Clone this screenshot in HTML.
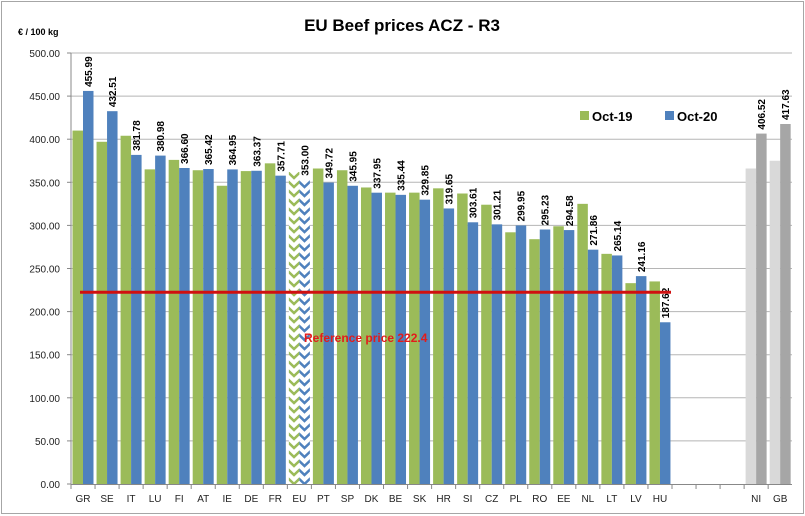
<!DOCTYPE html>
<html><head><meta charset="utf-8"><style>
body{margin:0;background:#fff;}
svg{display:block;font-family:"Liberation Sans",Arial,sans-serif;}
</style></head><body>
<svg width="805" height="516" viewBox="0 0 805 516">
<defs>
<pattern id="hg" width="10.5" height="9" patternUnits="userSpaceOnUse">
<rect width="10.5" height="9" fill="#fff"/>
<path d="M-1,8 L5.25,2 L11.5,8" stroke="#9bbb59" stroke-width="2.5" fill="none"/>
</pattern>
<pattern id="hb" width="10.5" height="9" patternUnits="userSpaceOnUse">
<rect width="10.5" height="9" fill="#fff"/>
<path d="M-1,8 L5.25,2 L11.5,8" stroke="#4f81bd" stroke-width="2.5" fill="none"/>
</pattern>
</defs>
<rect x="1.5" y="1.5" width="802" height="512" fill="#fff" stroke="#a6a6a6"/>
<text x="402" y="31" text-anchor="middle" font-size="17" font-weight="bold">EU Beef prices ACZ - R3</text>
<text x="18" y="35" font-size="9" font-weight="bold">€ / 100 kg</text>
<g id="grid" stroke="#b5b5b5" stroke-width="1"></g>
<g id="bars"></g>
<line x1="71" y1="53" x2="71" y2="484" stroke="#888"/>
<line x1="71" y1="484.5" x2="792" y2="484.5" stroke="#888"/>
<g id="ticks"></g>
<line x1="80" y1="292.3" x2="671" y2="292.3" stroke="#d01010" stroke-width="3"/>
<text x="304" y="342" font-size="12" font-weight="bold" fill="#e31b1b">Reference price 222.4</text>
<rect x="580" y="111" width="9" height="9" fill="#9bbb59"/>
<text x="592" y="121" font-size="13" font-weight="bold">Oct-19</text>
<rect x="665" y="111" width="9" height="9" fill="#4f81bd"/>
<text x="677" y="121" font-size="13" font-weight="bold">Oct-20</text>
</svg>
<script>
var ns="http://www.w3.org/2000/svg";
function el(t,a,p,txt){var e=document.createElementNS(ns,t);for(var k in a)e.setAttribute(k,a[k]);if(txt)e.textContent=txt;document.getElementById(p).appendChild(e);return e;}
var y0=484,s=0.862;
for(var v=0;v<=500;v+=50){var y=y0-v*s;if(v>0)el("line",{x1:71,y1:y,x2:792,y2:y},"grid");
el("text",{x:60,y:y+4,"font-size":"10","text-anchor":"end",fill:"#222"},"ticks",v.toFixed(2));
el("line",{x1:67,y1:y,x2:71,y2:y,stroke:"#888"},"ticks");}
var d=[["GR",410,455.99],["SE",397,432.51],["IT",404,381.78],["LU",365,380.98],["FI",376,366.60],["AT",364,365.42],["IE",346,364.95],["DE",363,363.37],["FR",372,357.71],["EU",362,353.00],["PT",366,349.72],["SP",364,345.95],["DK",344,337.95],["BE",338,335.44],["SK",338,329.85],["HR",343,319.65],["SI",337,303.61],["CZ",324,301.21],["PL",292,299.95],["RO",284,295.23],["EE",299,294.58],["NL",325,271.86],["LT",267,265.14],["LV",233,241.16],["HU",235,187.62],null,null,null,["NI",366,406.52],["GB",375,417.63]];
var w=24.04;
for(var i=0;i<30;i++){var x0=71+i*w;
el("line",{x1:x0,y1:484,x2:x0,y2:489,stroke:"#888"},"ticks");
if(!d[i])continue;var c=d[i];
var g=i>=28,eu=c[0]=="EU";
var f1=g?"#d9d9d9":eu?"url(#hg)":"#9bbb59",f2=g?"#a6a6a6":eu?"url(#hb)":"#4f81bd";
var h1=c[1]*s,h2=c[2]*s;
el("rect",{x:x0+1.5,y:y0-h1,width:10.5,height:h1,fill:f1},"bars");
el("rect",{x:x0+12,y:y0-h2,width:10.5,height:h2,fill:f2},"bars");
var tx=x0+21,ty=y0-h2-4;
el("text",{x:tx,y:ty,"font-size":"10","font-weight":"bold",transform:"rotate(-90 "+tx+" "+ty+")"},"bars",c[2].toFixed(2));
el("text",{x:x0+w/2,y:502,"font-size":"10","text-anchor":"middle",fill:"#222"},"ticks",c[0]);}
</script>
</body></html>
